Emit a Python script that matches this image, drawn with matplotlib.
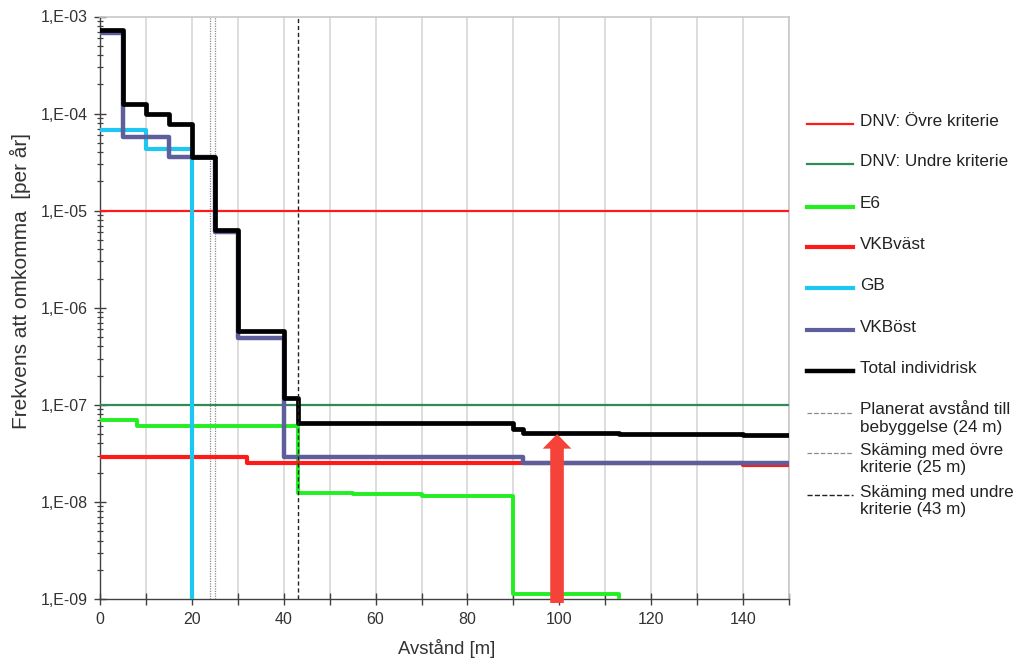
import numpy as np
import matplotlib
matplotlib.use("Agg")
import matplotlib.pyplot as plt
from matplotlib.lines import Line2D
from matplotlib.patches import FancyArrowPatch
from matplotlib.ticker import FixedLocator, FuncFormatter, MultipleLocator, NullFormatter

plt.rcParams['font.family'] = ['Liberation Sans', 'DejaVu Sans']

# Risk criteria (per year)
dnv_upper = 1e-5
dnv_lower = 1e-7

# Step series: values[i] applies from edges[i] to edges[i + 1] (metres)
e6_edges = [0, 8, 43, 55, 70, 90, 113]
e6_values = [6.95e-8, 6.1e-8, 1.25e-8, 1.2e-8, 1.15e-8, 1.13e-9]

vkbvast_edges = [0, 32, 140, 150]
vkbvast_values = [2.9e-8, 2.5e-8, 2.4e-8]

gb_edges = [0, 10, 20]
gb_values = [6.8e-5, 4.3e-5]

vkbost_edges = [0, 5, 15, 25, 30, 40, 92, 150]
vkbost_values = [6.8e-4, 5.8e-5, 3.55e-5, 6.1e-6, 4.9e-7, 2.87e-8, 2.5e-8]

total_edges = [0, 5, 10, 15, 20, 25, 30, 40, 43, 90, 92, 113, 140, 150]
total_values = [7.3e-4, 1.26e-4, 1.0e-4, 7.8e-5, 3.6e-5, 6.3e-6, 5.7e-7,
                1.17e-7, 6.5e-8, 5.6e-8, 5.1e-8, 5.0e-8, 4.9e-8]

# Reference distances (m)
planned_distance = 24
margin_upper = 25
margin_lower = 43

# Highlight arrow at this distance, pointing at the total risk level
arrow_x = 99.5
arrow_value = 5.0e-8

x_ticks = [0, 20, 40, 60, 80, 100, 120, 140]
y_exponents = [-9, -8, -7, -6, -5, -4, -3]
labels = ["DNV: Övre kriterie", "DNV: Undre kriterie", "E6", "VKBväst", "GB",
          "VKBöst", "Total individrisk",
          "Planerat avstånd till\nbebyggelse (24 m)",
          "Skäming med övre\nkriterie (25 m)",
          "Skäming med undre\nkriterie (43 m)"]

FLOOR = 1e-12  # zero risk, below the visible range


def step_path(edges, values, drop=False):
    x = np.repeat(np.asarray(edges, float), 2)[1:-1]
    y = np.repeat(np.asarray(values, float), 2)
    if drop:
        x = np.append(x, edges[-1])
        y = np.append(y, FLOOR)
    return x, y


W, H = 1017, 659
fig = plt.figure(figsize=(W / 100, H / 100), dpi=100)
ax_bottom, ax_height = 599, 582.5
ax = fig.add_axes([100 / W, 1 - ax_bottom / H, 689 / W, ax_height / H])
ax.set_yscale('log')
ax.set_xlim(0, 150)
ax.set_ylim(10.0 ** y_exponents[0], 10.0 ** y_exponents[-1])

c_red = '#FF1A1A'
h_up = ax.axhline(dnv_upper, color=c_red, lw=1.6, zorder=3)
h_low = ax.axhline(dnv_lower, color='#2E8B57', lw=1.6, zorder=3)

h_v1 = ax.axvline(planned_distance, color='#8C8C8C', lw=0.9, ls=(0, (1, 1)), zorder=2)
h_v2 = ax.axvline(margin_upper, color='#8C8C8C', lw=0.9, ls=(0, (1, 1)), zorder=2)
h_v3 = ax.axvline(margin_lower, color='#222222', lw=1.0, ls=(0, (3, 2)), zorder=6)

h_e6, = ax.plot(*step_path(e6_edges, e6_values, drop=True), color='#22EE22', lw=2.8, zorder=4)
h_vv, = ax.plot(*step_path(vkbvast_edges, vkbvast_values), color=c_red, lw=3.0, zorder=4)
h_gb, = ax.plot(*step_path(gb_edges, gb_values, drop=True), color='#1EC6F2', lw=3.0, zorder=4)
h_vo, = ax.plot(*step_path(vkbost_edges, vkbost_values), color='#5E5E9C', lw=3.2, zorder=4)
h_tot, = ax.plot(*step_path(total_edges, total_values), color='black', lw=3.4, zorder=5)

arrow = FancyArrowPatch((arrow_x, 0.91e-9), (arrow_x, arrow_value),
                        arrowstyle='simple,head_length=0.525,head_width=1.03,tail_width=0.49',
                        mutation_scale=20, shrinkA=0, shrinkB=0,
                        color='#F5433A', lw=0, clip_on=False, zorder=7)
ax.add_patch(arrow)

# Axes styling
for s in ('top', 'right'):
    ax.spines[s].set_color('#C8C8C8')
    ax.spines[s].set_linewidth(1.2)
for s in ('left', 'bottom'):
    ax.spines[s].set_color('#404040')
    ax.spines[s].set_linewidth(1.0)

ax.xaxis.set_major_locator(FixedLocator(x_ticks))
ax.xaxis.set_minor_locator(MultipleLocator(10))
major_y = [10.0 ** e for e in y_exponents]
minor_y = [m * 10.0 ** e for e in y_exponents[:-1] for m in range(2, 10)]
ax.yaxis.set_major_locator(FixedLocator(major_y))
ax.yaxis.set_minor_locator(FixedLocator(minor_y))
ax.yaxis.set_minor_formatter(NullFormatter())
ax.yaxis.set_major_formatter(FuncFormatter(lambda v, p: f"1,E{int(round(np.log10(v))):03d}"))

ax.tick_params(axis='both', which='both', direction='inout', colors='#404040',
               labelcolor='#333333', labelsize=11.5)
ax.tick_params(axis='x', which='both', length=8, width=1.0, pad=5)
ax.tick_params(axis='y', which='major', length=9, width=1.0, pad=4)
ax.tick_params(axis='y', which='minor', length=5, width=0.9)

ax.grid(True, axis='x', which='both', color='#DADADA', lw=1.3, zorder=0)
ax.set_axisbelow(True)

ax.set_xlabel('Avstånd [m]', fontsize=13.3, color='#333333')
ax.xaxis.set_label_coords((447 - 100) / 689, -(648 - ax_bottom) / ax_height)
ax.xaxis.label.set_va('center')
ax.set_ylabel('Frekvens att omkomma  [per år]', fontsize=15, color='#333333')
ax.yaxis.set_label_coords(-(100 - 20) / 689, (ax_bottom - 281) / ax_height)
ax.yaxis.label.set_va('center')

# Legend drawn beside the plot
lx0, lx1, tx = 807 / W, 853 / W, 860 / W
legend_handles = [h_up, h_low, h_e6, h_vv, h_gb, h_vo, h_tot, h_v1, h_v2, h_v3]
legend_lw = [1.6, 1.6, 3.0, 3.0, 3.0, 3.0, 3.2, 0.9, 0.9, 1.0]
rows_px = [124, 164, 207, 247, 288, 330, 371, 413, 453, 495]
for h, lab, lw, ypx in zip(legend_handles, labels, legend_lw, rows_px):
    y = 1 - ypx / H
    fig.add_artist(Line2D([lx0, lx1], [y, y], transform=fig.transFigure,
                          color=h.get_color(), lw=lw, ls=h.get_linestyle()))
    fig.text(tx, y + 10.5 / H, lab, ha='left', va='top', fontsize=12.3,
             color='#222222', linespacing=1.22)

fig.savefig('out.png', dpi=100)
